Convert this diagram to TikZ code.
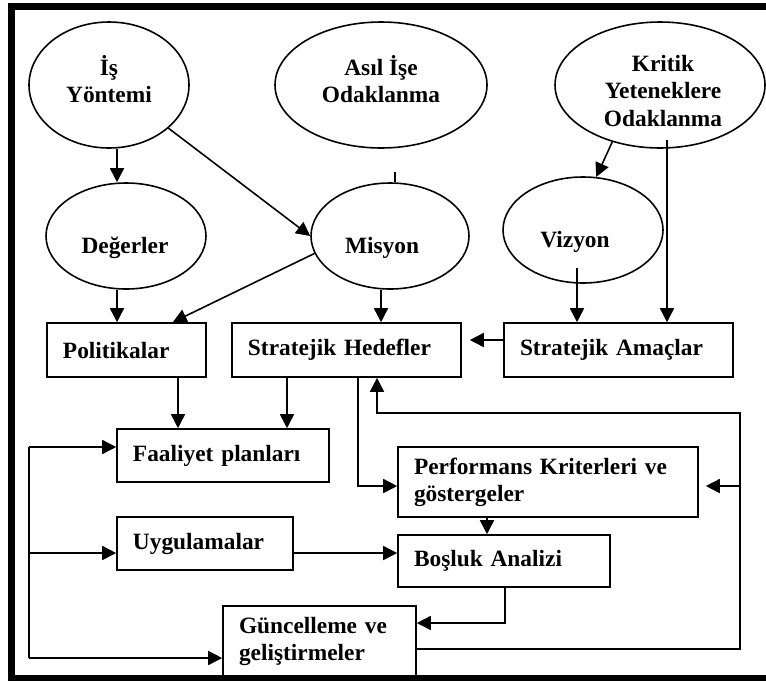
\documentclass[tikz,border=0pt]{standalone}
\usepackage{fontspec}
\setmainfont{Liberation Serif}
\usetikzlibrary{arrows.meta,shapes.geometric}

\begin{document}
\begin{tikzpicture}[x=0.02cm,y=-0.02cm,>={Triangle[length=0.28cm,width=0.28cm]},line width=0.9pt,
	every node/.style={font=\fontsize{13.3}{15.4}\selectfont\bfseries},
	oval/.style={draw,ellipse,inner sep=0pt,line width=0.9pt},
	box/.style={draw,rectangle,inner xsep=0.32cm,inner ysep=0pt,align=left,line width=0.9pt},
	lbl/.style={align=center,inner sep=0pt,draw=none}]
	\useasboundingbox (0,0) rectangle (766,680);
	\clip (0,0) rectangle (766,680);
	% frame
	\draw[line width=0.14cm] (790,6.5) -- (11.5,6.5) -- (11.5,678) -- (790,678);
	% ellipses
	\foreach \n/\cx/\cy/\rx/\ry in {isy/109/85/80/63, asil/381/85/106/63, kritik/660/85/105/63,
		deger/126/236/80/53, misyon/390/236/79/53, vizyon/583/230/80/53}{
		\pgfmathsetmacro\w{2*\rx*0.02}
		\pgfmathsetmacro\h{2*\ry*0.02}
		\node[oval,minimum width=\w cm,minimum height=\h cm] (\n) at (\cx,\cy) {};
	}
	\foreach \n/\x/\y/\txt in {isy/109/79/{İş\\Yöntemi}, asil/381/79/{Asıl İşe\\Odaklanma},
		kritik/663/91/{Kritik\\Yeteneklere\\Odaklanma}, deger/125/248/{Değerler},
		misyon/382/248/{Misyon}, vizyon/575/242/{Vizyon}}{
		\node[lbl] (\n-t) at (\x,\y) {\txt};
	}
	% boxes
	\foreach \n/\xa/\ya/\xb/\yb/\txt in {pol/47/323/206/377/{Politikalar},
		hedef/232/323/461/377/{Stratejik Hedefler}, amac/504/323/733/377/{Stratejik Amaçlar},
		faal/117/429/329/482/{Faaliyet planları}, uyg/117/517/293/570/{Uygulamalar},
		perf/398/447/698/517/{Performans Kriterleri ve\\göstergeler},
		bosluk/398/535/610/587/{Boşluk Analizi}, gunc/223/606/416/677/{Güncelleme ve\\geliştirmeler}}{
		\pgfmathsetmacro\w{(\xb-\xa)*0.02}
		\pgfmathsetmacro\h{(\yb-\ya)*0.02}
		\pgfmathsetmacro\tw{\w-0.64}
		\node[box,minimum width=\w cm,minimum height=\h cm,text width=\tw cm] (\n) at ({(\xa+\xb)/2},{(\ya+\yb)/2}) {\txt};
	}
	% helper points
	\coordinate (tick) at (395,172);
	\coordinate (kr) at (667,140);
	\coordinate (vz) at (577,268);
	\coordinate (loopR) at (740,413);
	\coordinate (loopL) at (377,413);
	\coordinate (busT) at (29,447);
	\coordinate (busM) at (29,553);
	\coordinate (busB) at (29,658);
	\coordinate (pe) at ([shift={(0,4)}]perf.east);
	\coordinate (ue) at ([shift={(0,9.5)}]uyg.east);
	% upper arrows
	\draw[->] ([shift={(8,0)}]isy.south) -- ([shift={(-9,0)}]deger.north);
	\draw[->] (isy.-36) -- (misyon.west);
	\draw (tick) -- (tick |- misyon.north);
	\draw[->] (misyon.193) -- (pol.31);
	\draw[->] ([shift={(-9,0)}]deger.south) -- ([shift={(-9.5,0)}]pol.north);
	\draw[->] ([shift={(-9,0)}]misyon.south) -- ([shift={(-9,0)}]hedef.north -| misyon.south);
	\draw[->] (kritik.230) -- (vizyon.76);
	\draw[->] (vz) -- (vz |- amac.north);
	\draw[->] (kr) -- (kr |- amac.north);
	\draw[->,shorten >=0.16cm] ([shift={(0,-10)}]amac.west) -- ([shift={(0,-10)}]amac.west -| hedef.east);
	% lower arrows
	\draw[->] ([shift={(51.5,0)}]pol.south) -- ([shift={(51.5,0)}]faal.north -| pol.south);
	\draw[->] ([shift={(-59.5,0)}]hedef.south) -- ([shift={(-59.5,0)}]faal.north -| hedef.south);
	\draw[->] ([shift={(11.5,0)}]hedef.south) |- ([shift={(0,4)}]perf.west);
	\draw[->] ([shift={(0,7.5)}]gunc.east) -| (loopR) -- (loopL) -- (loopL |- hedef.south);
	\draw[->,shorten >=0.14cm] (pe -| loopR) -- (pe);
	\draw[->] (ue) -- (ue -| bosluk.west);
	\draw[->] ([shift={(-61,0)}]perf.south) -- ([shift={(-61,0)}]bosluk.north -| perf.south);
	\draw[->] ([shift={(1,0)}]bosluk.south) |- ([shift={(0,-18.5)}]gunc.east);
	% feedback bus
	\draw (busT) -- (busB);
	\draw[->] (busT) -- (busT -| faal.west);
	\draw[->] (busM) -- (busM -| uyg.west);
	\draw[->] (busB) -- (busB -| gunc.west);
\end{tikzpicture}
\end{document}
